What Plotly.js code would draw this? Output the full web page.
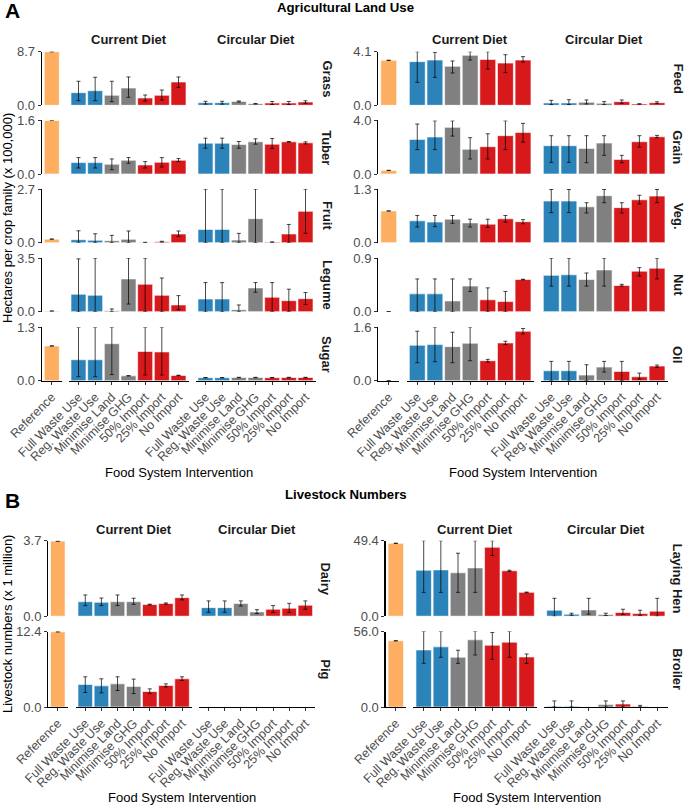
<!DOCTYPE html>
<html><head><meta charset="utf-8">
<script src="https://cdn.plot.ly/plotly-3.0.1.min.js"></script>
<style>html,body{margin:0;padding:0;background:#fff}#chart{width:685px;height:806px}</style>
</head><body><div id="chart"></div>
<script>
// ---------- DATA ----------
const categories = ["Full Waste Use","Reg. Waste Use","Minimise Land","Minimise GHG","50% Import","25% Import","No Import"];
const refCategory = ["Reference"];
const barColors = ["#2B83BA","#2B83BA","#808080","#808080","#D7191C","#D7191C","#D7191C"];
const refColor = "#FDAE61";

// Section A, left column (hectares x 100,000)
const landCropsLeft = ["Grass","Tuber","Fruit","Legume","Sugar"];
const landRefLeft = [8.7, 1.6, 0.18, 0.04, 0.845];
const landMaxLeft = [8.7, 1.6, 2.7, 3.5, 1.3];
// each entry: [value, lower, upper]
const grassCurrent  = [[2.05,0.75,3.9],[2.37,0.75,4.55],[1.62,0.6,3.9],[2.8,1.3,4.6],[1.18,0.7,1.67],[1.62,0.86,2.48],[3.78,2.92,4.6]];
const grassCircular = [[0.42,0.2,0.65],[0.42,0.2,0.65],[0.62,0.55,0.7],[0.26,0.2,0.3],[0.37,0.12,0.62],[0.37,0.12,0.62],[0.53,0.33,0.73]];
const tuberCurrent  = [[0.34,0.18,0.49],[0.34,0.18,0.49],[0.29,0.13,0.45],[0.41,0.32,0.49],[0.27,0.18,0.37],[0.35,0.21,0.49],[0.41,0.37,0.46]];
const tuberCircular = [[0.92,0.77,1.07],[0.92,0.77,1.07],[0.88,0.77,0.97],[0.96,0.89,1.05],[0.89,0.76,1.06],[0.96,0.95,0.97],[0.93,0.9,0.96]];
const fruitCurrent  = [[0.15,0,0.6],[0.12,0,0.45],[0.10,0,0.37],[0.17,0,0.59],[0.01,0.0,0.02],[0.05,0.03,0.07],[0.44,0.32,0.59]];
const fruitCircular = [[0.67,0,2.7],[0.67,0,2.7],[0.13,0,0.47],[1.21,0,2.7],[0.03,0.02,0.04],[0.44,0,0.92],[1.58,0.47,2.7]];
const legumeCurrent  = [[1.14,0,3.45],[1.07,0,3.5],[0.07,0,0.18],[2.14,0.5,3.5],[1.79,0,3.5],[1.07,0,2.2],[0.44,0.13,1.05]];
const legumeCircular = [[0.83,0,1.9],[0.83,0,1.9],[0.13,0,0.44],[1.55,1.27,1.9],[0.94,0,1.9],[0.72,0,1.47],[0.85,0.48,1.25]];
const sugarCurrent  = [[0.51,0.1,1.3],[0.51,0.1,1.3],[0.9,0.15,1.3],[0.12,0.115,0.125],[0.71,0.14,1.3],[0.70,0.14,1.3],[0.13,0.125,0.135]];
const sugarCircular = [[0.075,0.07,0.08],[0.075,0.07,0.08],[0.08,0.075,0.085],[0.08,0.075,0.085],[0.075,0.07,0.08],[0.08,0.075,0.085],[0.08,0.075,0.085]];

// Section A, right column
const landCropsRight = ["Feed","Grain","Veg.","Nut","Oil"];
const landRefRight = [3.44, 0.27, 0.77, 0.003, 0.005];
const landMaxRight = [4.1, 4.0, 1.3, 0.9, 1.6];
const feedCurrent  = [[3.34,1.76,4.1],[3.46,2.14,4.05],[2.98,2.47,3.39],[3.82,3.46,4.1],[3.51,2.78,4.1],[3.23,2.5,3.87],[3.46,3.31,3.72]];
const feedCircular = [[0.18,0.05,0.38],[0.18,0.05,0.43],[0.23,0.1,0.41],[0.15,0.05,0.28],[0.28,0.15,0.41],[0.1,0.08,0.12],[0.2,0.13,0.27]];
const grainCurrent  = [[2.58,1.82,3.73],[2.76,1.82,3.97],[3.48,2.83,3.97],[1.84,1.12,2.71],[2.04,1.12,3.0],[2.86,1.82,3.97],[3.1,2.38,3.78]];
const grainCircular = [[2.11,0.87,2.86],[2.11,0.87,2.86],[1.91,0.84,2.86],[2.31,1.39,2.86],[1.09,0.84,1.39],[2.41,2.01,2.86],[2.78,2.71,2.88]];
const vegCurrent  = [[0.53,0.38,0.66],[0.50,0.39,0.66],[0.57,0.47,0.66],[0.48,0.38,0.57],[0.45,0.37,0.57],[0.58,0.5,0.66],[0.51,0.46,0.56]];
const vegCircular = [[1.01,0.73,1.29],[1.01,0.73,1.29],[0.87,0.72,0.97],[1.14,0.97,1.29],[0.85,0.72,0.97],[1.04,0.94,1.15],[1.13,0.97,1.29]];
const nutCurrent  = [[0.30,0,0.55],[0.30,0,0.55],[0.18,0,0.55],[0.43,0.34,0.55],[0.20,0,0.40],[0.17,0,0.34],[0.54,0.535,0.545]];
const nutCircular = [[0.61,0.43,0.9],[0.62,0.43,0.9],[0.54,0.43,0.65],[0.70,0.43,0.9],[0.44,0.43,0.46],[0.68,0.6,0.74],[0.73,0.55,0.9]];
const oilCurrent  = [[1.06,0.54,1.48],[1.08,0.57,1.6],[1.02,0.54,1.45],[1.12,0.6,1.6],[0.6,0.56,0.64],[1.13,1.08,1.18],[1.48,1.4,1.56]];
const oilCircular = [[0.30,0,0.58],[0.30,0,0.58],[0.17,0,0.48],[0.41,0.26,0.58],[0.28,0,0.58],[0.12,0.05,0.23],[0.44,0.4,0.47]];

// Section B, left column (livestock x 1 million)
const stockLeft = ["Dairy","Pig"];
const stockRefLeft = [3.68, 12.35];
const stockMaxLeft = [3.7, 12.4];
const dairyCurrent  = [[0.71,0.52,1.04],[0.68,0.52,0.89],[0.71,0.52,1.04],[0.71,0.58,0.88],[0.57,0.55,0.59],[0.62,0.59,0.65],[0.91,0.8,1.04]];
const dairyCircular = [[0.42,0.19,0.75],[0.42,0.19,0.75],[0.62,0.5,0.75],[0.21,0.13,0.32],[0.34,0.18,0.52],[0.39,0.18,0.63],[0.54,0.34,0.75]];
const pigCurrent  = [[3.7,2.38,4.96],[3.47,2.32,4.63],[3.8,2.71,4.96],[3.37,2.2,4.58],[2.54,2.2,2.98],[3.54,3.3,3.8],[4.63,4.36,4.96]];
const pigCircular = [null,null,null,null,null,null,null];

// Section B, right column
const stockRight = ["Laying Hen","Broiler"];
const stockRefRight = [47.7, 49.1];
const stockMaxRight = [49.4, 56.0];
const henCurrent  = [[30.1,15.6,49.4],[30.3,15.6,49.4],[28.4,15.6,41.2],[31.6,15.6,49.4],[45.1,39.7,49.4],[29.7,29.3,30.1],[15.6,15.4,15.8]];
const henCircular = [[3.9,0,11.7],[1.3,0.65,1.95],[4.1,1.3,11.7],[1.1,0.4,1.95],[2.4,1.1,4.55],[1.7,0.65,3.9],[3.25,0,11.7]];
const broilerCurrent  = [[42.3,32.4,56],[44.6,36.9,56],[36.9,32.4,42.1],[49.8,38.6,56],[45.8,35.4,55.3],[48.1,36.9,56],[37.1,32.4,39.3]];
const broilerCircular = [[0.5,0,4.5],[0.5,0,4.5],null,[1.8,0,4.5],[2.2,0,4.5],[0.3,0,1.2],null];

// ---------- LAYOUT CONFIG (positions in px) ----------
const W = 685, H = 806;
const FONT = "Liberation Sans, Arial, Helvetica, sans-serif";
const fx = p => p / W;
const fy = p => 1 - p / H;
const TICK_X = 12.5, TICK_Y = 13, STRIP = 13, AXTITLE = 13, TITLE = 13.2;

const groups = [
  { names: landCropsLeft, refs: landRefLeft, maxes: landMaxLeft,
    cur: [grassCurrent, tuberCurrent, fruitCurrent, legumeCurrent, sugarCurrent],
    circ: [grassCircular, tuberCircular, fruitCircular, legumeCircular, sugarCircular],
    ref: [41.8, 61.8], curX: [68.5, 188.5], circX: [195.5, 315.5],
    tops: [51.7, 120.4, 189.1, 258.1, 327.2], rowH: 53.6, stripX: 327, stripY: 39.5, xTitleY: 472 },
  { names: landCropsRight, refs: landRefRight, maxes: landMaxRight,
    cur: [feedCurrent, grainCurrent, vegCurrent, nutCurrent, oilCurrent],
    circ: [feedCircular, grainCircular, vegCircular, nutCircular, oilCircular],
    ref: [378.1, 399.3], curX: [406.7, 533.6], circX: [540.7, 667.6],
    tops: [51.7, 120.4, 189.1, 258.1, 327.2], rowH: 53.6, stripX: 678, stripY: 39.5, xTitleY: 472 },
  { names: stockLeft, refs: stockRefLeft, maxes: stockMaxLeft,
    cur: [dairyCurrent, pigCurrent], circ: [dairyCircular, pigCircular],
    ref: [48.1, 67.5], curX: [75.6, 191.7], circX: [198.9, 315.0],
    tops: [540.7, 631.5], rowH: 75.5, stripX: 326, stripY: 529, xTitleY: 797 },
  { names: stockRight, refs: stockRefRight, maxes: stockMaxRight,
    cur: [henCurrent, broilerCurrent], circ: [henCircular, broilerCircular],
    ref: [385.5, 406.1], curX: [413.4, 536.9], circX: [544.1, 667.5],
    tops: [540.7, 631.5], rowH: 75.5, stripX: 678, stripY: 529, xTitleY: 797 }
];

const layout = {
  width: W, height: H, margin: {l:0, r:0, t:0, b:0},
  paper_bgcolor: '#fff', plot_bgcolor: 'rgba(0,0,0,0)',
  showlegend: false, barmode: 'overlay', font: {family: FONT},
  annotations: []
};
const traces = [];
let xCount = 0, yCount = 0;
const newX = () => { xCount++; return xCount === 1 ? 'x' : 'x' + xCount; };
const newY = () => { yCount++; return yCount === 1 ? 'y' : 'y' + yCount; };
const axKey = id => id[0] + 'axis' + id.slice(1);

const errStyle = {color: 'rgba(0,0,0,0.8)', thickness: 0.9, width: 2};

function barTrace(data, xa, ya, colors) {
  const idx = data.map((d, i) => i);
  return {
    type: 'bar', x: idx, y: data.map(d => d ? d[0] : null),
    xaxis: xa, yaxis: ya, width: 0.9, cliponaxis: false,
    marker: {color: colors, line: {color: '#ffffff', width: 0.6}},
    error_y: Object.assign({type: 'data', symmetric: false,
      array: data.map(d => d ? d[2] - d[0] : null),
      arrayminus: data.map(d => d ? d[0] - d[1] : null)}, errStyle),
    hoverinfo: 'skip', showlegend: false
  };
}

function xAxisDef(dom, anchor, labels) {
  return {
    domain: [fx(dom[0]), fx(dom[1])], anchor: anchor,
    range: [-0.6, labels.length - 0.4],
    tickmode: 'array', tickvals: labels.map((c, i) => i), ticktext: labels,
    tickangle: -45, ticks: 'outside', ticklen: 3, tickwidth: 1, tickcolor: '#333',
    tickfont: {family: FONT, size: TICK_X, color: '#4D4D4D'},
    showline: true, linecolor: '#000', linewidth: 1.1,
    showgrid: false, zeroline: false, fixedrange: true
  };
}

groups.forEach(g => {
  const xr = newX(), xc = newX(), xk = newX();
  const nRows = g.names.length;
  const yIds = g.names.map(() => newY());
  const bottomY = yIds[nRows - 1];
  layout[axKey(xr)] = xAxisDef(g.ref, bottomY, refCategory);
  layout[axKey(xc)] = xAxisDef(g.curX, bottomY, categories);
  layout[axKey(xk)] = xAxisDef(g.circX, bottomY, categories);

  g.names.forEach((name, i) => {
    const yid = yIds[i];
    const top = g.tops[i], bot = top + g.rowH;
    layout[axKey(yid)] = {
      domain: [fy(bot), fy(top)], anchor: xr, range: [0, g.maxes[i]],
      tickmode: 'array', tickvals: [0, g.maxes[i]],
      ticktext: [0, g.maxes[i]].map(v => v.toFixed(1)),
      ticks: 'outside', ticklen: 3, tickwidth: 1, tickcolor: '#333',
      tickfont: {family: FONT, size: TICK_Y, color: '#4D4D4D'},
      showline: true, linecolor: '#000', linewidth: 1.1,
      showgrid: false, zeroline: false, fixedrange: true
    };
    traces.push(barTrace([[g.refs[i], g.refs[i], g.refs[i]]], xr, yid, [refColor]));
    traces.push(barTrace(g.cur[i], xc, yid, barColors));
    traces.push(barTrace(g.circ[i], xk, yid, barColors));
    layout.annotations.push({
      xref: 'paper', yref: 'paper', x: fx(g.stripX), y: fy(top + g.rowH / 2),
      text: name, textangle: 90, showarrow: false, xanchor: 'center', yanchor: 'middle',
      font: {family: FONT, size: STRIP, color: '#1a1a1a', weight: 'bold'}
    });
  });
  [['Current Diet', g.curX], ['Circular Diet', g.circX]].forEach(([t, d]) => {
    layout.annotations.push({
      xref: 'paper', yref: 'paper', x: fx((d[0] + d[1]) / 2), y: fy(g.stripY),
      text: t, showarrow: false, xanchor: 'center', yanchor: 'middle',
      font: {family: FONT, size: STRIP, color: '#1a1a1a', weight: 'bold'}
    });
  });
  layout.annotations.push({
    xref: 'paper', yref: 'paper', x: fx((g.ref[0] + g.circX[1]) / 2), y: fy(g.xTitleY),
    text: 'Food System Intervention', showarrow: false, xanchor: 'center', yanchor: 'middle',
    font: {family: FONT, size: AXTITLE, color: '#000'}
  });
});

const textNotes = [
  {text: 'A', x: 3, y: 11, size: 21, bold: true, anchor: 'left'},
  {text: 'B', x: 3, y: 500, size: 21, bold: true, anchor: 'left'},
  {text: 'Agricultural Land Use', x: 345, y: 8, size: TITLE, bold: true, anchor: 'center'},
  {text: 'Livestock Numbers', x: 346, y: 494, size: TITLE, bold: true, anchor: 'center'}
];
textNotes.forEach(n => layout.annotations.push({
  xref: 'paper', yref: 'paper', x: fx(n.x), y: fy(n.y), text: n.text, showarrow: false,
  xanchor: n.anchor, yanchor: 'middle',
  font: {family: FONT, size: n.size, color: '#000', weight: n.bold ? 'bold' : 'normal'}
}));
[['Hectares per crop family (x 100,000)', 218], ['Livestock numbers (x 1 million)', 624]].forEach(([t, yc]) => {
  layout.annotations.push({
    xref: 'paper', yref: 'paper', x: fx(7), y: fy(yc), text: t, textangle: -90,
    showarrow: false, xanchor: 'center', yanchor: 'middle',
    font: {family: FONT, size: AXTITLE, color: '#000'}
  });
});

Plotly.newPlot('chart', traces, layout, {staticPlot: true, displayModeBar: false});
</script>
</body></html>
